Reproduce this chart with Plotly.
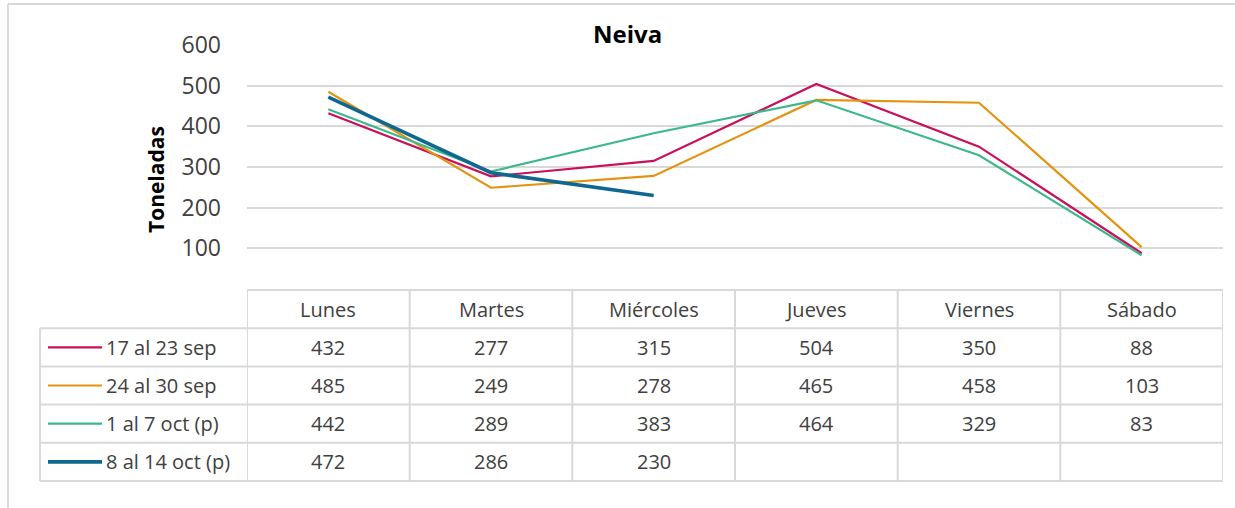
import plotly.graph_objects as go

# ---------------- data ----------------
days = ["Lunes", "Martes", "Miércoles", "Jueves", "Viernes", "Sábado"]
series_names = ["17 al 23 sep", "24 al 30 sep", "1 al 7 oct (p)", "8 al 14 oct (p)"]
s_17_23_sep = [432, 277, 315, 504, 350, 88]
s_24_30_sep = [485, 249, 278, 465, 458, 103]
s_1_7_oct = [442, 289, 383, 464, 329, 83]
s_8_14_oct = [472, 286, 230, None, None, None]
series_values = [s_17_23_sep, s_24_30_sep, s_1_7_oct, s_8_14_oct]
y_ticks = [0, 100, 200, 300, 400, 500, 600]
y_ticktext = ["", "100", "200", "300", "400", "500", "600"]
chart_title = "Neiva"
y_title = "Toneladas"

# ---------------- style ----------------
colors = ["#C8105C", "#E3930F", "#3DB88A", "#0F6890"]
widths = [2.2, 2.2, 2.2, 3.6]
W, H = 1235, 508
FONT = "Open Sans"
TXT = "#404040"
GRID = "#D9D9D9"
TABLE_FS = 20


def px(p):
    return p / W


def py(p):
    return 1 - p / H


x_idx = list(range(len(days)))

fig = go.Figure()
for name, vals, c, w in zip(series_names, series_values, colors, widths):
    fig.add_trace(go.Scatter(x=x_idx, y=vals, mode="lines", name=name,
                             line=dict(color=c, width=w), connectgaps=False,
                             showlegend=False, hoverinfo="skip"))

plot_l, plot_r, plot_t, plot_b = 247, 1223, 45, 289

shapes = []
annotations = []

# outer chart frame
shapes.append(dict(type="line", xref="paper", yref="paper", x0=px(8), x1=px(8),
                   y0=py(4), y1=0, line=dict(color=GRID, width=2)))
shapes.append(dict(type="line", xref="paper", yref="paper", x0=px(8), x1=1,
                   y0=py(4), y1=py(4), line=dict(color=GRID, width=2)))

# data table
row_top = 290
row_h = (481 - 290) / 5
leg_l = 40
n_rows = len(series_names) + 1
for k in range(n_rows + 1):
    yk = row_top + k * row_h
    x0 = plot_l if k == 0 else leg_l
    shapes.append(dict(type="line", xref="paper", yref="paper", x0=px(x0), x1=px(plot_r),
                       y0=py(yk), y1=py(yk), line=dict(color=GRID, width=2)))
shapes.append(dict(type="line", xref="paper", yref="paper", x0=px(leg_l), x1=px(leg_l),
                   y0=py(row_top + row_h), y1=py(row_top + n_rows * row_h),
                   line=dict(color=GRID, width=2)))
for i in range(len(days) + 1):
    shapes.append(dict(type="line", xref="x", yref="paper", x0=i - 0.5, x1=i - 0.5,
                       y0=py(row_top), y1=py(row_top + n_rows * row_h),
                       line=dict(color=GRID, width=2)))

# header
for i, d in enumerate(days):
    annotations.append(dict(x=i, y=py(row_top + row_h / 2), xref="x", yref="paper",
                            text=d, showarrow=False, xanchor="center", yanchor="middle",
                            font=dict(family=FONT, size=TABLE_FS, color=TXT)))
# rows
for r, (name, vals, c, w) in enumerate(zip(series_names, series_values, colors, widths)):
    yc = row_top + (r + 1.5) * row_h
    shapes.append(dict(type="line", xref="paper", yref="paper", x0=px(48), x1=px(102),
                       y0=py(yc), y1=py(yc), line=dict(color=c, width=w)))
    annotations.append(dict(x=px(104), y=py(yc), xref="paper", yref="paper", text=name,
                            showarrow=False, xanchor="left", yanchor="middle",
                            font=dict(family=FONT, size=TABLE_FS, color=TXT)))
    for i, v in enumerate(vals):
        if v is None:
            continue
        annotations.append(dict(x=i, y=py(yc), xref="x", yref="paper", text=str(v),
                                showarrow=False, xanchor="center", yanchor="middle",
                                font=dict(family=FONT, size=TABLE_FS, color=TXT)))

# chart title and y-axis title
annotations.append(dict(x=px(627), y=py(34), xref="paper", yref="paper",
                        text="<b>" + chart_title + "</b>", showarrow=False,
                        xanchor="center", yanchor="middle",
                        font=dict(family=FONT, size=24, color="#000000")))
annotations.append(dict(x=px(156), y=py(180), xref="paper", yref="paper",
                        text="<b>" + y_title + "</b>",
                        textangle=-90, showarrow=False, xanchor="center", yanchor="middle",
                        font=dict(family=FONT, size=21, color="#000000")))

fig.update_layout(
    width=W, height=H,
    margin=dict(l=0, r=0, t=0, b=0, pad=0, autoexpand=False),
    paper_bgcolor="white", plot_bgcolor="white",
    xaxis=dict(domain=[px(plot_l), px(plot_r)], range=[-0.5, len(days) - 0.5],
               showgrid=False, zeroline=False, showticklabels=False, showline=False,
               automargin=False),
    yaxis=dict(domain=[py(plot_b), py(plot_t)], range=[0, 600], tickvals=y_ticks,
               ticktext=y_ticktext, showgrid=True, gridcolor=GRID, gridwidth=2,
               zeroline=False, showline=False, ticks="", ticklabelstandoff=25,
               automargin=False,
               tickfont=dict(family=FONT, size=23, color=TXT)),
    shapes=shapes, annotations=annotations,
)

fig.write_html(
    "out.html",
    config={"displayModeBar": False},
    post_script=(
        "var gd=document.getElementById('{plot_id}');"
        "gd.style.position='fixed';gd.style.top='0';gd.style.left='0';"
        "document.body.style.margin='0';document.body.style.overflow='hidden';"
    ),
)
